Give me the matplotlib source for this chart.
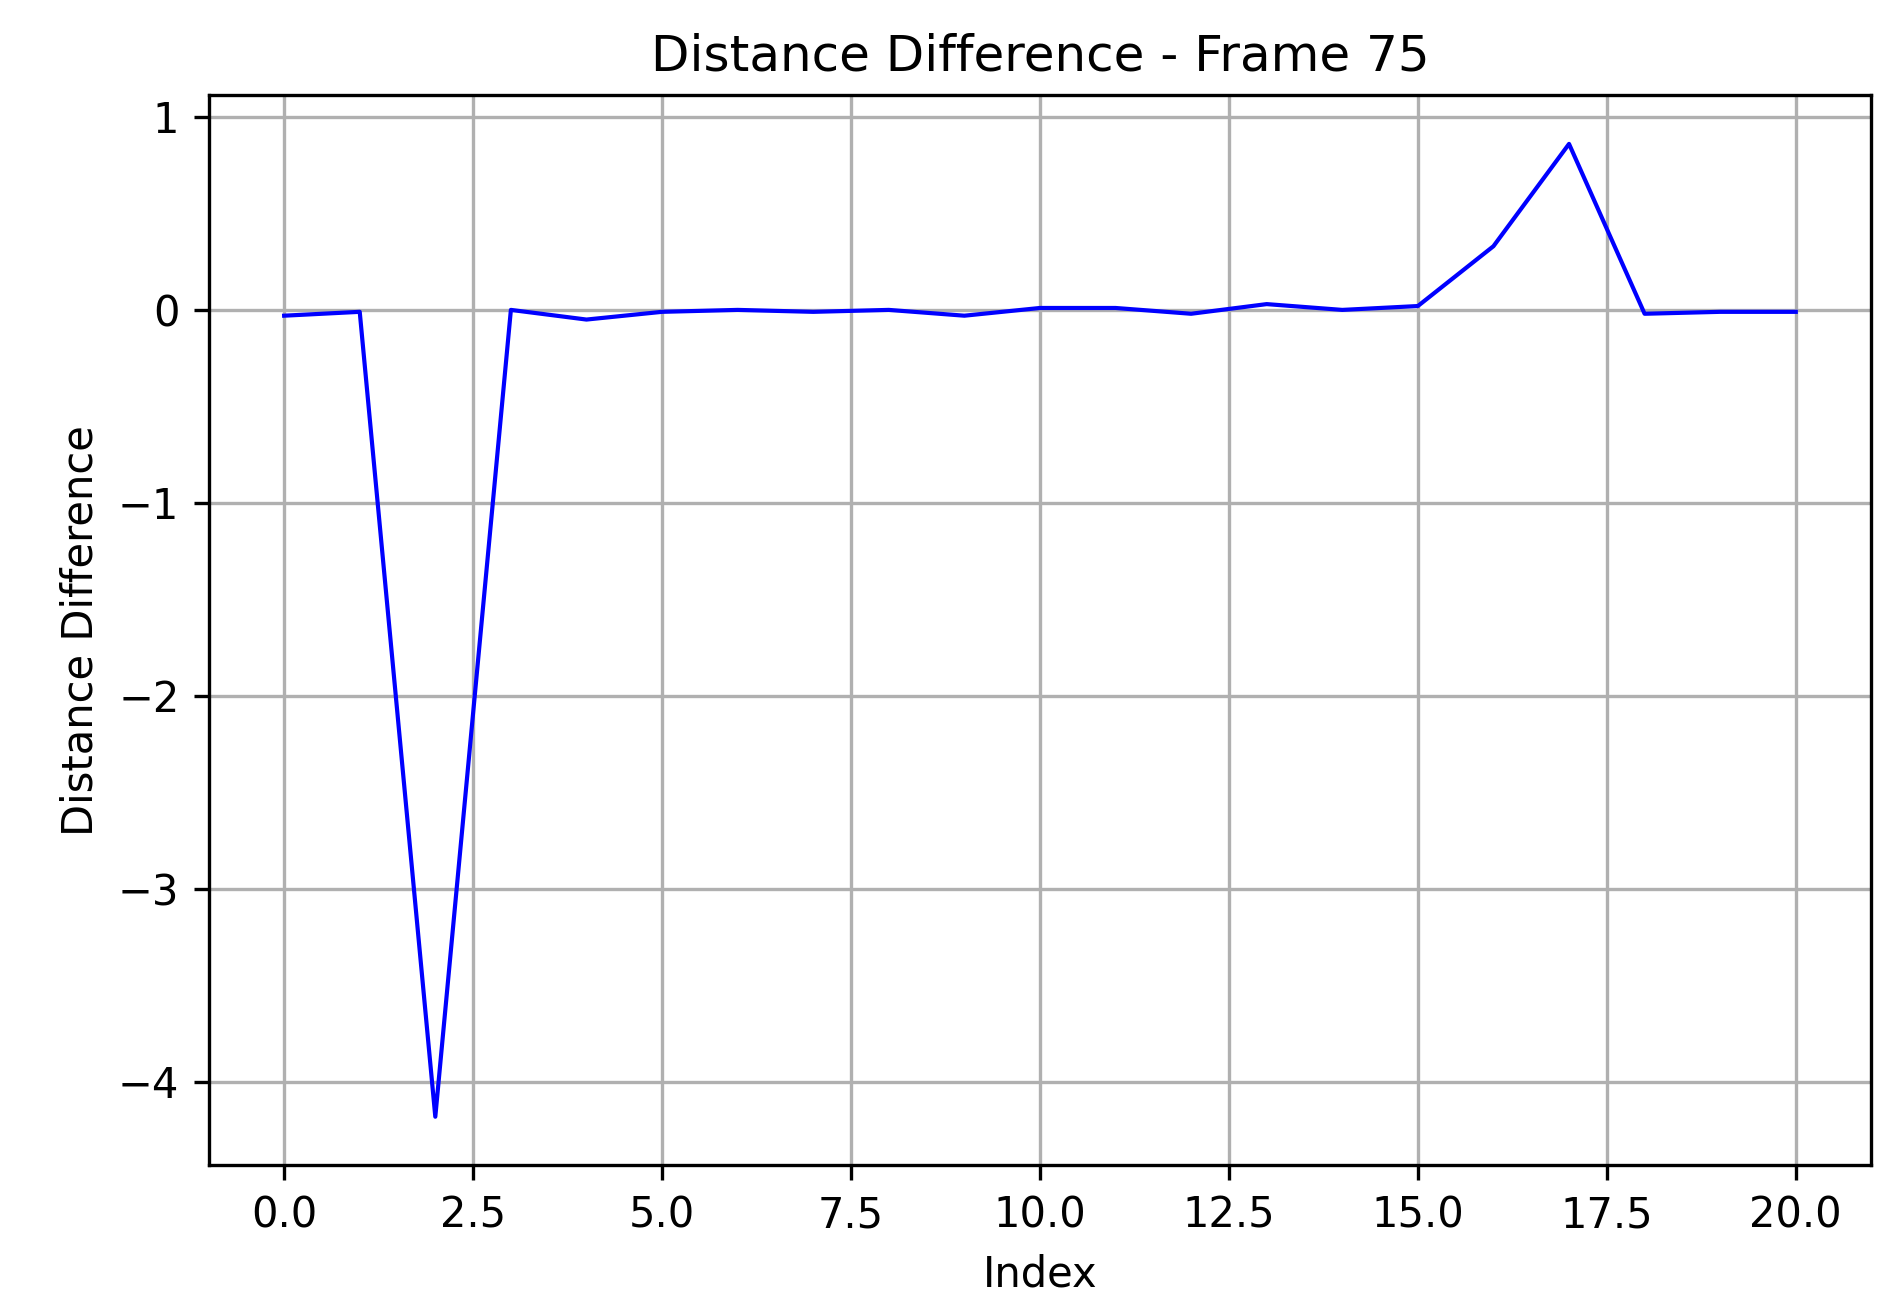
import numpy as np
import matplotlib.pyplot as plt

index = np.arange(21)
distance_diff = [-0.03, -0.01, -4.18, 0.0, -0.05, -0.01, 0.0, -0.01, 0.0, -0.03,
                 0.01, 0.01, -0.02, 0.03, 0.0, 0.02, 0.33, 0.86, -0.02, -0.01, -0.01]

fig, ax = plt.subplots(figsize=(6.32, 4.35), dpi=300)
ax.plot(index, distance_diff, color="blue", linewidth=1.0)
ax.set_title("Distance Difference - Frame 75")
ax.set_xlabel("Index")
ax.set_ylabel("Distance Difference")
ax.grid(True)
fig.subplots_adjust(left=0.11, right=0.987, top=0.927, bottom=0.107)
fig.savefig("out.png", dpi=300)
